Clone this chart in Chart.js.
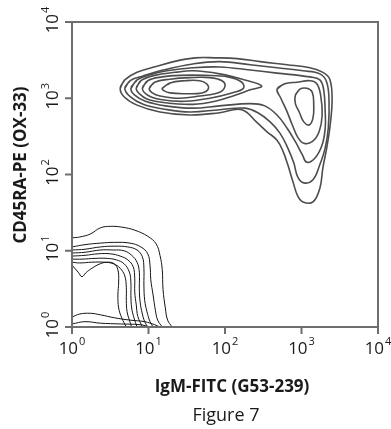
<!DOCTYPE html>
<html>
<head>
<meta charset="utf-8">
<script src="https://cdn.jsdelivr.net/npm/chart.js@4.4.1/dist/chart.umd.min.js"></script>
<style>
  html, body { margin: 0; padding: 0; background: #fff; }
  canvas { display: block; }
</style>
</head>
<body>
<canvas id="chart" width="391" height="429"></canvas>
<script>
// axes are in decades: value 2 means 10^2
const xTicks = [0, 1, 2, 3, 4];
const yTicks = [0, 1, 2, 3, 4];
const xTitle = 'IgM-FITC (G53-239)';
const yTitle = 'CD45RA-PE (OX-33)';
const caption = 'Figure 7';

// upper population, closed contours [log IgM, log CD45RA]
const outer1 = [[0.63,3.13],[0.69,3.24],[0.85,3.34],[1.11,3.42],[1.37,3.49],[1.61,3.53],[1.87,3.53],[2.16,3.52],[2.46,3.48],[2.81,3.44],[3.11,3.40],[3.28,3.34],[3.37,3.25],[3.40,2.98],[3.37,2.61],[3.33,2.35],[3.28,2.09],[3.24,1.82],[3.15,1.64],[3.02,1.64],[2.95,1.72],[2.89,1.90],[2.82,2.13],[2.76,2.30],[2.68,2.45],[2.55,2.56],[2.42,2.68],[2.22,2.85],[1.93,2.81],[1.54,2.78],[1.15,2.82],[0.85,2.91],[0.68,3.02]];
const outer2 = [[0.69,3.13],[0.76,3.23],[0.92,3.29],[1.19,3.37],[1.58,3.45],[1.93,3.48],[2.33,3.44],[2.68,3.40],[3.02,3.36],[3.24,3.32],[3.33,3.21],[3.36,2.95],[3.35,2.61],[3.31,2.35],[3.24,2.13],[3.15,1.93],[3.03,1.89],[2.95,1.97],[2.90,2.15],[2.82,2.35],[2.72,2.54],[2.59,2.69],[2.43,2.81],[2.26,2.87],[1.93,2.85],[1.54,2.82],[1.19,2.86],[0.93,2.92],[0.76,3.02]];
const outer3 = [[0.77,3.13],[0.85,3.24],[1.02,3.31],[1.24,3.36],[1.58,3.40],[1.93,3.41],[2.33,3.37],[2.68,3.33],[3.11,3.28],[3.24,3.24],[3.29,3.11],[3.31,2.82],[3.31,2.61],[3.27,2.39],[3.18,2.22],[3.07,2.16],[3.01,2.26],[2.92,2.43],[2.81,2.61],[2.68,2.78],[2.52,2.90],[2.33,2.93],[1.93,2.90],[1.58,2.87],[1.22,2.90],[0.96,2.96],[0.82,3.04]];
const left4 = [[0.84,3.13],[0.90,3.23],[1.08,3.30],[1.35,3.34],[1.58,3.36],[1.93,3.32],[2.26,3.24],[2.48,3.16],[2.33,3.11],[2.13,3.04],[1.87,2.96],[1.58,2.92],[1.22,2.94],[0.98,2.99],[0.88,3.06]];
const left3 = [[0.92,3.13],[0.99,3.23],[1.18,3.28],[1.41,3.30],[1.74,3.30],[2.04,3.28],[2.22,3.21],[2.24,3.13],[2.09,3.07],[1.80,3.00],[1.48,2.96],[1.18,2.98],[0.99,3.04]];
const left2 = [[1.01,3.13],[1.08,3.21],[1.28,3.25],[1.54,3.27],[1.80,3.27],[1.96,3.23],[2.00,3.16],[1.93,3.08],[1.67,3.03],[1.41,3.00],[1.15,3.03],[1.05,3.07]];
const left1 = [[1.18,3.13],[1.28,3.20],[1.48,3.23],[1.67,3.23],[1.76,3.19],[1.78,3.12],[1.70,3.07],[1.48,3.06],[1.28,3.07],[1.20,3.10]];
const right2 = [[2.68,3.12],[2.78,3.19],[2.94,3.21],[3.11,3.23],[3.20,3.19],[3.25,3.04],[3.27,2.78],[3.23,2.56],[3.14,2.43],[3.03,2.41],[2.95,2.49],[2.88,2.65],[2.80,2.85],[2.73,3.00]];
const right1 = [[2.92,3.04],[2.98,3.12],[3.07,3.13],[3.14,3.08],[3.16,2.91],[3.15,2.74],[3.10,2.65],[3.03,2.69],[2.97,2.82],[2.92,2.93]];

// lower population, open contours running from the left axis to the bottom axis
const low1 = [[0,1.17],[0.10,1.18],[0.24,1.22],[0.37,1.30],[0.50,1.32],[0.65,1.31],[0.82,1.27],[0.99,1.19],[1.10,1.09],[1.15,0.94],[1.18,0.75],[1.19,0.49],[1.22,0.25],[1.25,0.09],[1.31,0]];
const low2 = [[0,1.05],[0.17,1.08],[0.37,1.10],[0.56,1.11],[0.76,1.10],[0.90,1.05],[0.99,0.96],[1.02,0.81],[1.03,0.62],[1.06,0.42],[1.09,0.22],[1.12,0.09],[1.18,0]];
const low3 = [[0,1.01],[0.17,1.02],[0.37,1.05],[0.56,1.06],[0.73,1.05],[0.85,1.01],[0.92,0.92],[0.94,0.77],[0.94,0.55],[0.95,0.35],[0.98,0.20],[1.02,0.07],[1.06,0]];
const low4 = [[0,0.97],[0.17,0.98],[0.37,1.01],[0.54,1.01],[0.68,1.00],[0.78,0.94],[0.85,0.85],[0.88,0.72],[0.88,0.51],[0.89,0.33],[0.92,0.17],[0.95,0.07],[0.99,0]];
const low5 = [[0,0.93],[0.17,0.94],[0.34,0.96],[0.50,0.96],[0.63,0.93],[0.73,0.88],[0.80,0.79],[0.82,0.64],[0.82,0.46],[0.84,0.29],[0.86,0.14],[0.92,0]];
const low6 = [[0,0.89],[0.13,0.89],[0.30,0.90],[0.46,0.90],[0.58,0.88],[0.68,0.83],[0.75,0.72],[0.77,0.58],[0.77,0.41],[0.78,0.25],[0.81,0.12],[0.85,0]];
const low7 = [[0,0.85],[0.10,0.84],[0.26,0.85],[0.42,0.85],[0.54,0.83],[0.63,0.77],[0.69,0.67],[0.71,0.52],[0.71,0.35],[0.72,0.20],[0.75,0.09],[0.78,0]];
const low8 = [[0,0.81],[0.08,0.72],[0.13,0.66],[0.18,0.71],[0.26,0.77],[0.37,0.83],[0.47,0.85],[0.55,0.83],[0.60,0.75],[0.61,0.59],[0.60,0.42],[0.61,0.25],[0.65,0.12],[0.71,0]];
const base1 = [[0,0.13],[0.10,0.17],[0.24,0.18],[0.37,0.16],[0.56,0.12],[0.76,0.09],[0.95,0.07],[1.08,0.03],[1.15,0]];
const base2 = [[0,0.04],[0.17,0.07],[0.37,0.05],[0.63,0.04],[0.89,0.03],[1.02,0]];

const upperRings = [outer1, outer2, outer3, left4, left3, left2, left1, right2, right1];
const lowerLines = [low1, low2, low3, low4, low5, low6, low7, low8, base1, base2];

const FONT = '"Open Sans", "Noto Sans", sans-serif';

function toPoints(arr, closed) {
  const pts = arr.map(p => ({ x: p[0], y: p[1] }));
  // run past the start so the joint is smoothed too
  if (closed) pts.push(pts[0], pts[1]);
  return pts;
}

function contourSet(list, closed, color, width) {
  return list.map(arr => ({
    data: toPoints(arr, closed),
    showLine: true,
    borderColor: color,
    borderWidth: width,
    pointRadius: 0,
    tension: 0.4,
    fill: false,
  }));
}

function powerLabel(ctx, exp, cx, base) {
  ctx.font = '17px ' + FONT;
  const w1 = ctx.measureText('10').width;
  ctx.font = '11px ' + FONT;
  const w2 = ctx.measureText(String(exp)).width;
  const left = cx - (w1 + 1 + w2) / 2;
  ctx.font = '17px ' + FONT;
  ctx.fillText('10', left, base);
  ctx.font = '11px ' + FONT;
  ctx.fillText(String(exp), left + w1 + 1, base - 9);
}

const axesBox = {
  id: 'axesBox',
  afterDraw(chart) {
    const { ctx, chartArea: a, scales: { x, y } } = chart;
    ctx.save();
    ctx.strokeStyle = '#6e6e6e';
    ctx.lineWidth = 2;
    ctx.strokeRect(a.left, a.top, a.right - a.left, a.bottom - a.top);
    ctx.beginPath();
    xTicks.forEach(v => {
      const px = x.getPixelForValue(v);
      ctx.moveTo(px, a.bottom);
      ctx.lineTo(px, a.bottom + 7);
    });
    yTicks.forEach(v => {
      const py = y.getPixelForValue(v);
      ctx.moveTo(a.left, py);
      ctx.lineTo(a.left - 7, py);
    });
    ctx.stroke();

    ctx.fillStyle = '#1a1a1a';
    ctx.textAlign = 'left';
    ctx.textBaseline = 'alphabetic';
    xTicks.forEach(v => powerLabel(ctx, v, x.getPixelForValue(v), a.bottom + 27));
    yTicks.forEach(v => {
      ctx.save();
      ctx.translate(a.left - 14, y.getPixelForValue(v) - 2);
      ctx.rotate(-Math.PI / 2);
      powerLabel(ctx, v, 0, 0);
      ctx.restore();
    });

    ctx.textAlign = 'center';
    ctx.font = 'bold 17px ' + FONT;
    ctx.fillText(xTitle, 232, 392);
    ctx.save();
    ctx.translate(26, 165);
    ctx.rotate(-Math.PI / 2);
    ctx.fillText(yTitle, 0, 0);
    ctx.restore();

    ctx.font = '18px ' + FONT;
    ctx.fillText(caption, 226, 421);
    ctx.restore();
  }
};

new Chart(document.getElementById('chart'), {
  type: 'scatter',
  data: {
    datasets: [
      ...contourSet(upperRings, true, '#4d4d4d', 1.6),
      ...contourSet(lowerLines, false, '#151515', 1),
    ],
  },
  options: {
    responsive: false,
    animation: false,
    layout: { padding: { left: 72, top: 22, right: 13, bottom: 102 } },
    scales: {
      x: { type: 'linear', min: 0, max: 4, display: false },
      y: { type: 'linear', min: 0, max: 4, display: false },
    },
    plugins: {
      legend: { display: false },
      tooltip: { enabled: false },
    },
  },
  plugins: [axesBox],
});
</script>
</body>
</html>
